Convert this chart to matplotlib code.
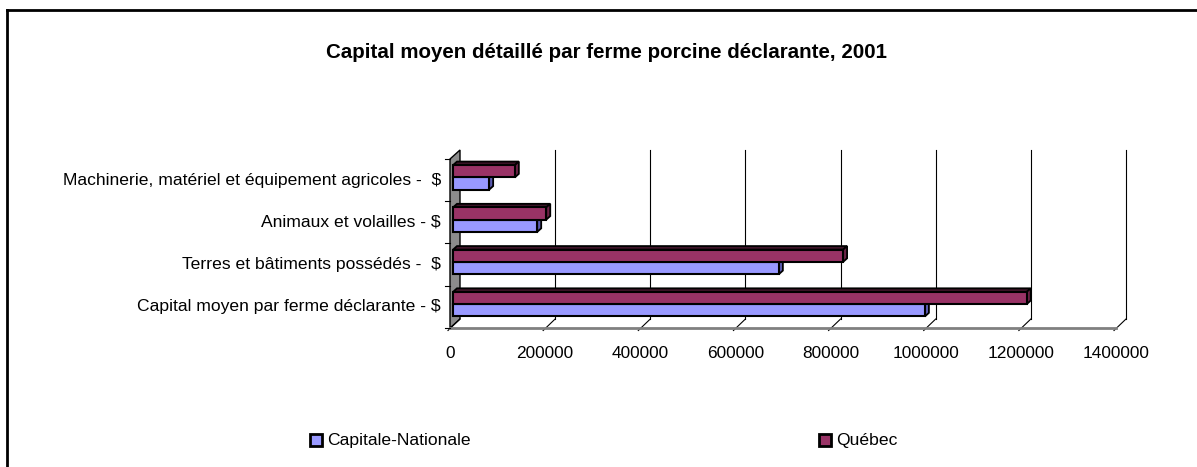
import numpy as np
import matplotlib
matplotlib.use("Agg")
import matplotlib.pyplot as plt
from matplotlib.patches import Polygon, Rectangle
from matplotlib.lines import Line2D

plt.rcParams['font.family'] = ['Liberation Sans', 'DejaVu Sans']

# data (bottom -> top)
categories = ["Capital moyen par ferme déclarante - $",
              "Terres et bâtiments possédés -  $",
              "Animaux et volailles - $",
              "Machinerie, matériel et équipement agricoles -  $"]
capitale_nationale = [992000, 685000, 177000, 76000]
quebec = [1206000, 820000, 196000, 130000]
series_names = ["Capitale-Nationale", "Québec"]
x_ticks = [0, 200000, 400000, 600000, 800000, 1000000, 1200000, 1400000]

W, H = 1197, 467
fig = plt.figure(figsize=(W / 100, H / 100), dpi=100)
fig.patch.set_facecolor("white")

# front plane of the 3-D box
x0, x1 = 450, 1116
y_top, y_bot = 159, 328
ax = fig.add_axes([x0 / W, 1 - y_bot / H, (x1 - x0) / W, (y_bot - y_top) / H])
ax.set_xlim(0, 1400000)
ax.set_ylim(0, len(categories))
ax.axis("off")

DX, DY = 10, 9  # depth offset in pixels (right, up)


def pt(x, y, d=0.0):
    px, py = ax.transData.transform((x, y))
    return (px + DX * d, py + DY * d)


def poly(pts, **kw):
    p = Polygon(pts, closed=True, transform=None, **kw)
    fig.add_artist(p)


n = len(categories)

# left wall
poly([pt(0, 0), pt(0, 0, 1), pt(0, n, 1), pt(0, n)],
     facecolor="#8c8c8c", edgecolor="black", lw=1.0, zorder=1)

# back gridlines and floor diagonals
for t in x_ticks:
    if t > 0:
        a, b = pt(t, 0, 1), pt(t, n, 1)
        fig.add_artist(Line2D([a[0], b[0]], [a[1], b[1]], transform=None,
                              color="black", lw=0.8, zorder=1))
    a, b = pt(t, 0, 0), pt(t, 0, 1)
    fig.add_artist(Line2D([a[0] - 2, b[0]], [a[1] - 2.5, b[1]], transform=None,
                          color="black", lw=0.8, zorder=1))
    ax.text(t, -0.6, str(t), ha="center", va="center", fontsize=12.4)

# floor front edge
a, b = pt(0, 0), pt(1400000, 0)
fig.add_artist(Line2D([a[0], b[0]], [a[1], b[1]], transform=None,
                      color="#808080", lw=2.0, zorder=1))

# left category ticks
for i in range(n + 1):
    a = pt(0, i)
    fig.add_artist(Line2D([a[0] - 5, a[0]], [a[1], a[1]], transform=None,
                          color="black", lw=0.8, zorder=1))

for i, c in enumerate(categories):
    ax.text(-19000, i + 0.5, c, ha="right", va="center", fontsize=12.6)

# 3-D bars
bh = 0.29
d0, d1 = 0.3, 0.7
colors = [("#9999ff", "#5c5cb3", "#33335a"), ("#993366", "#6b2347", "#3d1428")]
for s, vals in enumerate([capitale_nationale, quebec]):
    face, side, top = colors[s]
    for i, v in enumerate(vals):
        yb = i + 0.5 - bh + s * bh
        yt = yb + bh
        # top face
        poly([pt(0, yt, d0), pt(v, yt, d0), pt(v, yt, d1), pt(0, yt, d1)],
             facecolor=top, edgecolor="black", lw=1.3, zorder=3 + s)
        # side face
        poly([pt(v, yb, d0), pt(v, yb, d1), pt(v, yt, d1), pt(v, yt, d0)],
             facecolor=side, edgecolor="black", lw=1.3, zorder=3 + s)
        # front face
        poly([pt(0, yb, d0), pt(v, yb, d0), pt(v, yt, d0), pt(0, yt, d0)],
             facecolor=face, edgecolor="black", lw=1.5, zorder=3 + s)

# title
fig.text(606 / W, 1 - 52 / H, "Capital moyen détaillé par ferme porcine déclarante, 2001",
         ha="center", va="center", fontsize=14.8, fontweight="bold")

# legend
leg_x = [310, 819]
for k, name in enumerate(series_names):
    fig.add_artist(Rectangle((leg_x[k] / W, 1 - 446 / H), 12 / W, 12 / H,
                             transform=fig.transFigure, facecolor=colors[k][0],
                             edgecolor="black", lw=2.0))
    fig.text((leg_x[k] + 17) / W, 1 - 440 / H, name, ha="left", va="center", fontsize=12.6)

# outer frame
fig.add_artist(Line2D([6.5 / W, 1], [1 - 9.5 / H, 1 - 9.5 / H], transform=fig.transFigure,
                      color="black", lw=2.0))
fig.add_artist(Line2D([6.5 / W, 6.5 / W], [1 - 9.5 / H, 0], transform=fig.transFigure,
                      color="black", lw=2.0))

fig.savefig("out.png", dpi=100)
